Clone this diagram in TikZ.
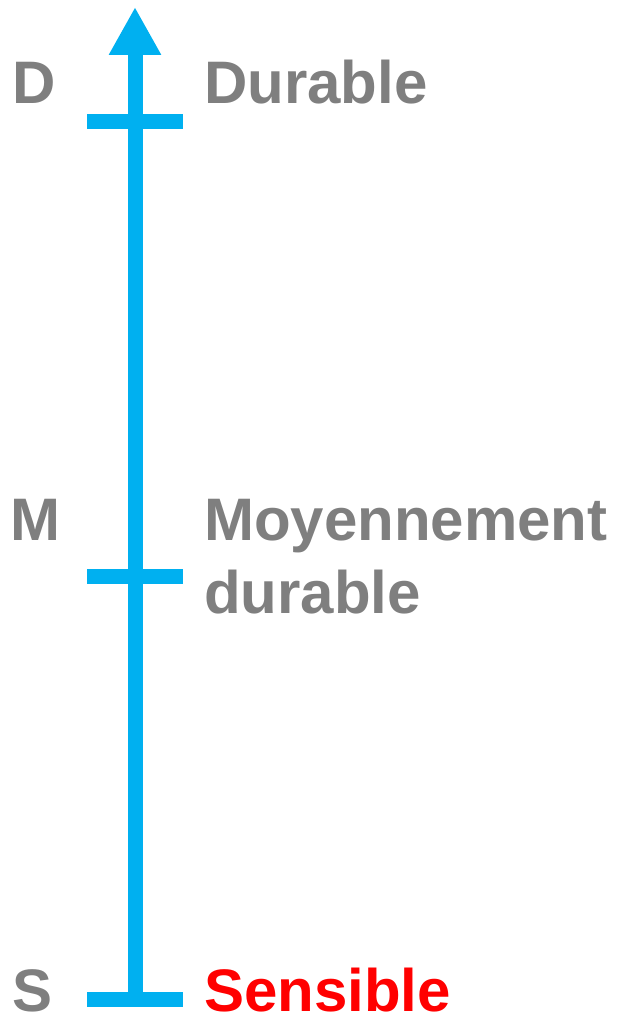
\documentclass[tikz,border=0pt]{standalone}
\usepackage{fontspec}
\setmainfont{Liberation Sans}
\usetikzlibrary{arrows.meta}
\definecolor{axisblue}{HTML}{00B0F0}
\definecolor{labgray}{HTML}{7F7F7F}
\definecolor{labred}{HTML}{FF0000}
\tikzset{
  axisline/.style={draw=axisblue, line width=15pt},
  lab/.style={font=\fontsize{60}{73}\selectfont\bfseries, text=labgray, inner sep=0pt, anchor=base west},
}
\begin{document}
\begin{tikzpicture}[x=1pt,y=-1pt]
\useasboundingbox (0,0) rectangle (621,1022);
\coordinate (bottom) at (135,999);
\coordinate (top) at (135,7);
\coordinate (dl) at (87,121.5); \coordinate (dr) at (183,121.5);
\coordinate (ml) at (87,576); \coordinate (mr) at (183,576);
\coordinate (sl) at (87,999); \coordinate (sr) at (183,999);
\draw[axisline, -{Triangle[width=49pt,length=48pt]}] (bottom) -- (top);
\draw[axisline] (dl) -- (dr);
\draw[axisline] (ml) -- (mr);
\draw[axisline] (sl) -- (sr);
\node[lab] (dlet) at (12,104) {D};
\node[lab] (dtxt) at (204,104) {Durable};
\node[lab] (mlet) at (10,540) {M};
\node[lab, align=left] (mtxt) at (204,613) {Moyennement\\durable};
\node[lab, text depth=0pt] (slet) at (12,1011) {S};
\node[lab, text depth=0pt, text=labred] (stxt) at (204,1011) {Sensible};
\end{tikzpicture}
\end{document}
